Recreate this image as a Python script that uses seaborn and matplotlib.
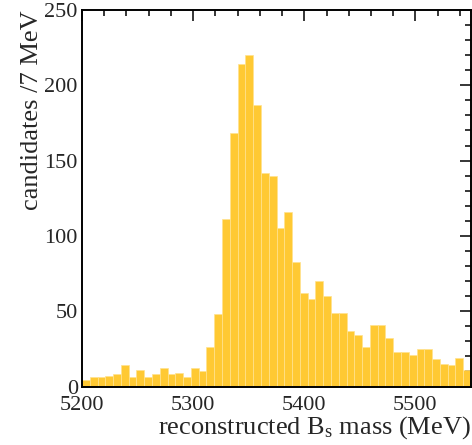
import numpy as np
import pandas as pd
import matplotlib
matplotlib.use("Agg")
import matplotlib.pyplot as plt
from matplotlib.ticker import MultipleLocator
import seaborn as sns

# Data: bin starts (MeV) and candidate counts per 7 MeV bin
bin_start = list(range(5200, 5550, 7))
counts = [4, 6, 6, 7, 8, 14, 6, 11, 6, 8,
          12, 8, 9, 6, 12, 10, 26, 48, 111, 168,
          214, 220, 187, 142, 140, 105, 116, 83, 62, 58,
          70, 60, 49, 49, 37, 34, 26, 41, 41, 32,
          23, 23, 21, 25, 25, 18, 15, 14, 19, 11]
x_ticks = [5200, 5300, 5400, 5500]
y_ticks = [0, 50, 100, 150, 200, 250]

sns.set_style("white")
plt.rcParams['font.family'] = ['Liberation Serif', 'DejaVu Serif']
plt.rcParams['mathtext.fontset'] = 'custom'
plt.rcParams['mathtext.rm'] = 'Liberation Serif'
plt.rcParams['mathtext.it'] = 'Liberation Serif:italic'

width = 7
df = pd.DataFrame({"mass": np.array(bin_start, dtype=float) + width / 2,
                   "n": np.array(counts, dtype=float)})

fig = plt.figure(figsize=(4.72, 4.45), dpi=100)
ax = fig.add_axes([82 / 472, (445 - 386.5) / 445, (471 - 82) / 472, (386.5 - 10) / 445])

sns.histplot(data=df, x="mass", weights="n", binwidth=width, binrange=(5200, 5550),
             ax=ax, color="#FFC933", alpha=1.0, edgecolor="#FFE28F", linewidth=0.5)

ax.set_xlim(5200, 5550)
ax.set_ylim(0, 250)
ax.set_xticks(x_ticks)
ax.set_yticks(y_ticks)
ax.xaxis.set_minor_locator(MultipleLocator(20))
ax.yaxis.set_minor_locator(MultipleLocator(10))
ax.tick_params(which='both', direction='in', top=True, right=True,
               color='black', width=1.1, labelsize=16)
ax.tick_params(which='major', length=8)
ax.tick_params(which='minor', length=4)
ax.tick_params(axis='x', pad=7)
ax.tick_params(axis='y', pad=3)
for s in ax.spines.values():
    s.set_visible(True)
    s.set_color('black')
    s.set_linewidth(1.4)
    s.set_zorder(5)

ax.set_xlabel(r'reconstructed B$_{\rm s}$ mass (MeV)', fontsize=19, labelpad=-1, loc='right')
ax.set_ylabel('candidates /7 MeV', fontsize=19, labelpad=1, loc='top')

fig.savefig("out.png", dpi=100)
